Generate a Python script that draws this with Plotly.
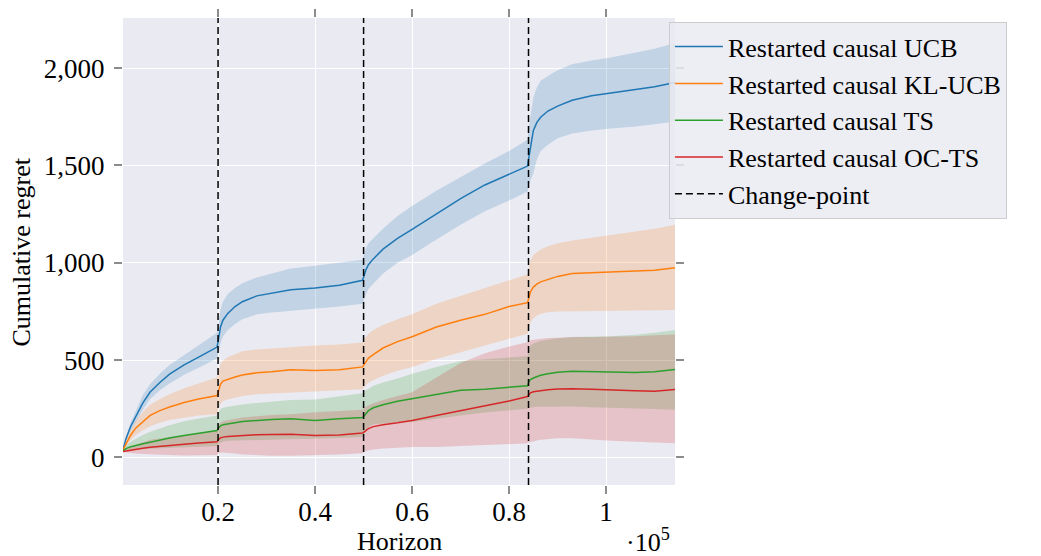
import plotly.graph_objects as go

# ---------------- data ----------------
horizon = [400, 1000, 2000, 3000, 4500, 6000, 8000, 10000, 13000, 16000, 19800,
           20100, 20500, 21000, 22000, 23500, 25000, 28000, 31000, 35000, 40000, 45000, 49800,
           50100, 50500, 51000, 52000, 54000, 57000, 60000, 65000, 70000, 75000, 80000, 83800,
           84100, 84400, 85000, 85700, 86500, 88000, 90000, 93000, 97000, 101000, 106000, 110000, 114200]

ucb_mean = [40, 95, 160, 210, 280, 336, 385, 428, 475, 515, 567,
            610, 670, 705, 740, 775, 800, 830, 845, 862, 870, 885, 910,
            935, 965, 990, 1020, 1070, 1125, 1172, 1250, 1330, 1400, 1455, 1497,
            1545, 1590, 1680, 1720, 1748, 1780, 1805, 1835, 1858, 1872, 1890, 1905, 1926]
ucb_hi = [45, 105, 180, 240, 320, 377, 430, 475, 525, 575, 640,
          690, 760, 800, 840, 870, 895, 925, 945, 970, 985, 1000, 1015,
          1045, 1075, 1100, 1125, 1175, 1240, 1292, 1370, 1440, 1510, 1575, 1632,
          1700, 1760, 1850, 1900, 1935, 1960, 1990, 2020, 2040, 2055, 2080, 2100, 2130]
ucb_lo = [35, 85, 140, 180, 245, 300, 345, 380, 425, 460, 508,
          540, 585, 620, 655, 685, 710, 735, 745, 755, 765, 775, 790,
          815, 840, 865, 895, 945, 1000, 1040, 1120, 1195, 1265, 1320, 1366,
          1395, 1425, 1460, 1530, 1575, 1606, 1640, 1665, 1680, 1690, 1700, 1712, 1726]

klucb_mean = [40, 70, 115, 150, 185, 216, 240, 259, 282, 300, 318,
              345, 375, 392, 402, 413, 423, 435, 440, 450, 447, 450, 465,
              478, 495, 510, 528, 562, 595, 620, 670, 705, 735, 775, 795,
              825, 850, 875, 890, 902, 915, 930, 945, 950, 953, 958, 962, 975]
klucb_hi = [45, 85, 140, 185, 235, 270, 300, 325, 355, 380, 410,
            445, 480, 498, 515, 530, 545, 555, 560, 570, 575, 580, 590,
            605, 620, 635, 655, 680, 710, 735, 790, 830, 870, 910, 940,
            985, 1010, 1040, 1055, 1068, 1085, 1100, 1115, 1130, 1145, 1160, 1175, 1195]
klucb_lo = [35, 55, 90, 115, 140, 160, 178, 192, 205, 215, 222,
            250, 275, 290, 298, 308, 315, 325, 330, 335, 340, 345, 350,
            360, 372, 385, 398, 420, 445, 465, 505, 540, 575, 610, 635,
            670, 695, 715, 728, 738, 746, 750, 753, 755, 755, 755, 756, 758]

ts_mean = [35, 45, 55, 62, 70, 78, 90, 100, 112, 124, 138,
           152, 162, 168, 173, 178, 184, 190, 195, 198, 190, 198, 205,
           213, 225, 240, 255, 270, 288, 302, 325, 345, 350, 360, 368,
           390, 400, 408, 415, 422, 430, 437, 442, 440, 438, 436, 440, 452]
ts_hi = [38, 60, 80, 95, 115, 132, 150, 165, 185, 200, 215,
         235, 248, 255, 260, 266, 272, 280, 288, 295, 298, 315, 330,
         338, 345, 352, 368, 385, 405, 430, 465, 495, 505, 515, 520,
         560, 575, 585, 592, 598, 605, 612, 618, 620, 622, 630, 640, 655]
ts_lo = [32, 35, 38, 40, 43, 45, 48, 50, 52, 55, 58,
         68, 76, 82, 85, 87, 88, 90, 93, 95, 97, 100, 105,
         118, 135, 155, 170, 175, 180, 182, 200, 215, 230, 242, 250,
         254, 256, 258, 260, 261, 262, 262, 262, 258, 255, 250, 248, 245]

octs_mean = [30, 33, 38, 42, 47, 52, 57, 61, 68, 74, 80,
             92, 100, 104, 107, 110, 113, 116, 118, 119, 113, 115, 125,
             130, 138, 148, 158, 168, 178, 190, 215, 240, 265, 290, 313,
             325, 332, 337, 340, 343, 348, 351, 353, 350, 345, 342, 340, 349]
octs_hi = [33, 45, 55, 65, 78, 90, 98, 105, 115, 125, 140,
           165, 178, 186, 192, 198, 205, 212, 218, 222, 232, 238, 245,
           255, 262, 267, 278, 295, 315, 335, 410, 485, 535, 570, 592,
           597, 600, 604, 607, 610, 613, 615, 618, 618, 620, 622, 628, 632]
octs_lo = [28, 25, 22, 20, 17, 15, 13, 12, 10, 10, 12,
           20, 24, 25, 24, 20, 15, 10, 8, 8, 10, 15, 21,
           28, 33, 36, 40, 45, 50, 53, 53, 55, 60, 68, 72,
           76, 79, 83, 87, 91, 96, 98, 98, 92, 86, 80, 75, 72]

change_points = [20000, 50000, 84000]

names = ["Restarted causal UCB", "Restarted causal KL-UCB",
         "Restarted causal TS", "Restarted causal OC-TS"]
colors = ["#1f77b4", "#ff7f0e", "#2ca02c", "#d62728"]
band_colors = ["rgba(31,119,180,0.2)", "rgba(255,127,14,0.2)",
               "rgba(44,160,44,0.2)", "rgba(214,39,40,0.2)"]

x_ticks = [20000, 40000, 60000, 80000, 100000]
x_tick_text = ["0.2", "0.4", "0.6", "0.8", "1"]
y_ticks = [0, 500, 1000, 1500, 2000]

x_range = [400, 114200]
y_range = [-142, 2258]

series = [(ucb_mean, ucb_lo, ucb_hi), (klucb_mean, klucb_lo, klucb_hi),
          (ts_mean, ts_lo, ts_hi), (octs_mean, octs_lo, octs_hi)]
for s in series:
    for arr in s:
        assert len(arr) == len(horizon)

FONT = "Liberation Serif"

fig = go.Figure()

# bands
for (m, lo, hi), bc in zip(series, band_colors):
    fig.add_trace(go.Scatter(
        x=horizon + horizon[::-1], y=hi + lo[::-1],
        fill="toself", fillcolor=bc, line=dict(width=0),
        mode="lines", hoverinfo="skip", showlegend=False))

# mean lines
for (m, lo, hi), name, c in zip(series, names, colors):
    fig.add_trace(go.Scatter(
        x=horizon, y=m, mode="lines", name=name,
        line=dict(color=c, width=1.5)))

# change points
cx, cy = [], []
for cp in change_points:
    cx += [cp, cp, None]
    cy += [y_range[0], y_range[1], None]
fig.add_trace(go.Scatter(
    x=cx, y=cy, mode="lines", name="Change-point",
    line=dict(color="black", width=1.5, dash="7px,4px")))

axis_common = dict(
    showgrid=True, gridcolor="white", gridwidth=1.2,
    zeroline=False, showline=False,
    ticks="outside", ticklen=8, tickwidth=1.5, tickcolor="#8c8c8c",
    mirror="ticks",
    tickfont=dict(family=FONT, size=27, color="black"),
)

fig.update_xaxes(range=x_range, tickvals=x_ticks, ticktext=x_tick_text,
                 ticklabelstandoff=-5, **axis_common)
fig.update_yaxes(range=y_range, tickvals=y_ticks, tickformat=",d",
                 ticklabelstandoff=4, **axis_common)

fig.update_layout(
    width=1041, height=556,
    margin=dict(l=123, r=366, t=18, b=71),
    plot_bgcolor="#EAEAF2", paper_bgcolor="white",
    font=dict(family=FONT, size=26, color="black"),
    legend=dict(
        x=0.989, y=0.991, xanchor="left", yanchor="top",
        bgcolor="rgba(234,234,242,0.85)", bordercolor="#cccccc", borderwidth=1,
        font=dict(family=FONT, size=26, color="black"),
        itemwidth=48,
    ),
    annotations=[
        dict(text="Horizon", xref="paper", yref="paper", x=0.5, y=-0.122,
             xanchor="center", yanchor="middle", showarrow=False,
             font=dict(family=FONT, size=26, color="black")),
        dict(text="Cumulative regret", xref="paper", yref="paper", x=-0.183, y=0.5,
             xanchor="center", yanchor="middle", textangle=-90, showarrow=False,
             font=dict(family=FONT, size=26, color="black")),
        dict(text="·10<sup>5</sup>", xref="paper", yref="paper", x=0.995, y=-0.118,
             xanchor="right", yanchor="middle", showarrow=False,
             font=dict(family=FONT, size=26, color="black")),
    ],
)

fig.write_html("out.html", config={"displayModeBar": False},
               post_script="document.body.style.margin='0';document.body.style.overflow='hidden';")
